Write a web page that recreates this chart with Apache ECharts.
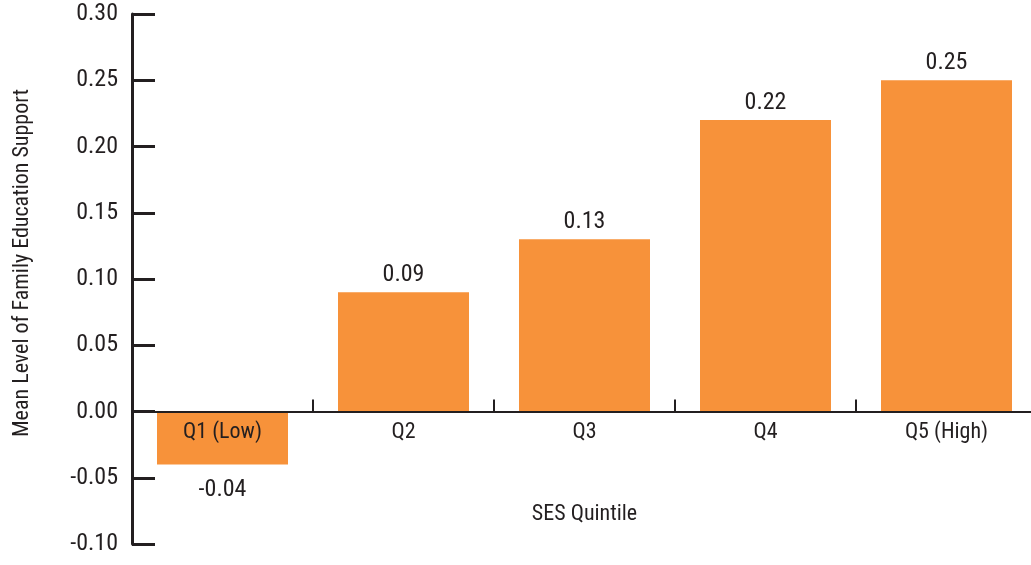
<!DOCTYPE html>
<html>
<head>
<meta charset="utf-8">
<script src="https://cdn.jsdelivr.net/npm/echarts@6/dist/echarts.min.js"></script>
<style>
  html, body { margin: 0; padding: 0; background: #fff; }
  #chart { width: 1031px; height: 565px; }
</style>
</head>
<body>
<div id="chart"></div>
<script>
// SES quintiles and mean family education support
const categories = ['Q1 (Low)', 'Q2', 'Q3', 'Q4', 'Q5 (High)'];
const supportValues = [-0.04, 0.09, 0.13, 0.22, 0.25];
const yMin = -0.10, yMax = 0.30, yStep = 0.05;

const FONT = '"Roboto Condensed", "DejaVu Sans Condensed", sans-serif';
const TEXT = '#231f20';
const AXIS = '#231f20';
const BAR = '#F7923A';

const GRID = { left: 132, right: -6, top: 14, bottom: 21 };
const chartHeight = 565;
// lift the category axis (line, ticks, labels, name) up to the zero line
const plotHeight = chartHeight - GRID.top - GRID.bottom;
const zeroLift = plotHeight * (0 - yMin) / (yMax - yMin);

const chart = echarts.init(document.getElementById('chart'), null, { renderer: 'canvas' });

chart.setOption({
  animation: false,
  textStyle: { fontFamily: FONT },
  grid: Object.assign({ containLabel: false, outerBoundsMode: 'none' }, GRID),
  xAxis: {
    type: 'category',
    data: categories,
    position: 'bottom',
    offset: -zeroLift,
    z: 5,
    name: 'SES Quintile',
    nameLocation: 'middle',
    nameGap: 92,
    nameTextStyle: { fontFamily: FONT, fontSize: 22, color: TEXT },
    axisLine: { onZero: false, lineStyle: { color: AXIS, width: 2 } },
    axisTick: { show: true, inside: true, length: 12, alignWithLabel: false, lineStyle: { color: AXIS, width: 2 } },
    axisLabel: { fontFamily: FONT, fontSize: 22, color: TEXT, margin: 10 },
    splitLine: { show: false }
  },
  yAxis: {
    type: 'value',
    min: yMin,
    max: yMax,
    interval: yStep,
    name: 'Mean Level of Family Education Support',
    nameLocation: 'middle',
    nameGap: 99,
    nameTextStyle: { fontFamily: FONT, fontSize: 22, color: TEXT, padding: [0, 0, 0, 32] },
    axisLine: { show: true, lineStyle: { color: AXIS, width: 3 } },
    axisTick: { show: true, inside: true, length: 23, lineStyle: { color: AXIS, width: 3 } },
    axisLabel: {
      fontFamily: FONT, fontSize: 24, color: TEXT, margin: 14,
      formatter: v => v.toFixed(2)
    },
    splitLine: { show: false }
  },
  series: [{
    type: 'bar',
    data: supportValues.map(v => v < 0
      ? { value: v, label: { position: 'bottom', distance: 13 } }
      : v),
    barWidth: 131,
    itemStyle: { color: BAR },
    label: {
      show: true,
      position: 'top',
      distance: 5,
      fontFamily: FONT,
      fontSize: 24,
      color: TEXT,
      formatter: p => p.value.toFixed(2)
    }
  }]
});
</script>
</body>
</html>
